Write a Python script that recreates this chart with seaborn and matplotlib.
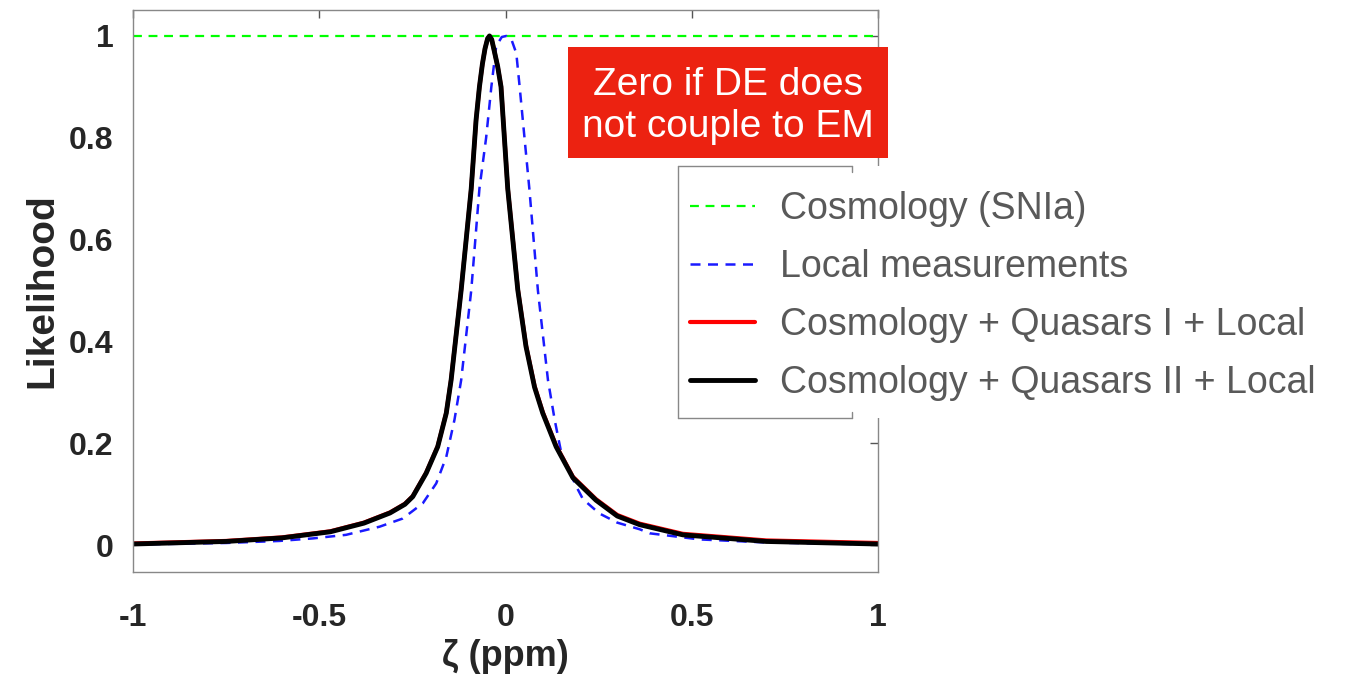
import numpy as np
import pandas as pd
import seaborn as sns
import matplotlib.pyplot as plt
from matplotlib.patches import Rectangle
from matplotlib.lines import Line2D

# values
sn_zeta = [-1.0, 1.0]
sn_like = [1.0, 1.0]

local_zeta = [-1.0, -0.75, -0.607, -0.517, -0.428, -0.338, -0.311, -0.276, -0.222,
              -0.186, -0.159, -0.137, -0.119, -0.092, -0.070, -0.052, -0.038, -0.025,
              -0.010, 0.002, 0.015, 0.029, 0.038, 0.051, 0.064, 0.087, 0.114, 0.132,
              0.150, 0.190, 0.208, 0.252, 0.300, 0.360, 0.387, 0.521, 0.700, 1.0]
local_like = [0.001, 0.004, 0.008, 0.013, 0.020, 0.036, 0.043, 0.052, 0.082,
              0.121, 0.173, 0.246, 0.324, 0.500, 0.700, 0.800, 0.900, 0.980,
              0.998, 1.000, 0.995, 0.966, 0.900, 0.800, 0.700, 0.500, 0.324, 0.246,
              0.180, 0.115, 0.090, 0.062, 0.044, 0.031, 0.023, 0.011, 0.005, 0.001]

q2_zeta = [-1.0, -0.75, -0.60, -0.47, -0.38, -0.31, -0.27, -0.249, -0.213, -0.182,
           -0.159, -0.146, -0.119, -0.092, -0.079, -0.070, -0.062, -0.055, -0.048,
           -0.043, -0.037, -0.030, -0.021, -0.012, 0.006, 0.033, 0.055, 0.078, 0.100,
           0.136, 0.181, 0.243, 0.300, 0.360, 0.476, 0.700, 1.0]
q2_like = [0.002, 0.007, 0.014, 0.026, 0.043, 0.063, 0.080, 0.095, 0.141, 0.193,
           0.259, 0.324, 0.501, 0.700, 0.835, 0.900, 0.945, 0.975, 0.995,
           1.000, 0.993, 0.970, 0.940, 0.900, 0.700, 0.501, 0.390, 0.310, 0.259,
           0.193, 0.132, 0.088, 0.057, 0.040, 0.020, 0.007, 0.002]

q1_zeta = q2_zeta
q1_like = [0.003, 0.008, 0.015, 0.027, 0.044, 0.064, 0.081, 0.096, 0.142, 0.194,
           0.260, 0.325, 0.502, 0.700, 0.835, 0.900, 0.945, 0.975, 0.995,
           1.000, 0.993, 0.970, 0.940, 0.901, 0.701, 0.503, 0.392, 0.312, 0.261,
           0.195, 0.134, 0.090, 0.059, 0.042, 0.022, 0.009, 0.004]

labels = ['Cosmology (SNIa)', 'Local measurements',
          'Cosmology + Quasars I + Local', 'Cosmology + Quasars II + Local']

sns.set_style('white')
plt.rcParams['font.family'] = ['Liberation Sans', 'DejaVu Sans']

W, H = 1345, 683
fig = plt.figure(figsize=(W / 100, H / 100), dpi=100)
ax = fig.add_axes([133 / W, 1 - 572 / H, (878 - 133) / W, (572 - 10) / H])

sns.lineplot(data=pd.DataFrame({'z': sn_zeta, 'L': sn_like}), x='z', y='L', ax=ax,
             color='#00ff00', lw=1.6, ls=(0, (4, 3)), label=labels[0])
sns.lineplot(data=pd.DataFrame({'z': local_zeta, 'L': local_like}), x='z', y='L', ax=ax,
             color='#1a1aff', lw=1.8, ls=(0, (4, 3)), label=labels[1], sort=False)
sns.lineplot(data=pd.DataFrame({'z': q1_zeta, 'L': q1_like}), x='z', y='L', ax=ax,
             color='#ff0000', lw=3, label=labels[2], sort=False)
sns.lineplot(data=pd.DataFrame({'z': q2_zeta, 'L': q2_like}), x='z', y='L', ax=ax,
             color='black', lw=3.5, label=labels[3], sort=False)

ax.set_xlim(-1, 1)
ax.set_ylim(-0.053, 1.051)
ax.set_xticks([-1, -0.5, 0, 0.5, 1])
ax.set_xticklabels(['-1', '-0.5', '0', '0.5', '1'])
ax.set_yticks([0, 0.2, 0.4, 0.6, 0.8, 1])
ax.set_yticklabels(['0', '0.2', '0.4', '0.6', '0.8', '1'])
ax.tick_params(direction='in', length=6, width=1, color='#555555', top=True, right=True,
               labelsize=23, labelcolor='#262626')
ax.tick_params(axis='y', pad=14)
ax.tick_params(axis='x', pad=22)
for t in ax.get_xticklabels() + ax.get_yticklabels():
    t.set_fontweight('bold')
for s in ax.spines.values():
    s.set_color('#888888')
    s.set_linewidth(1)
ax.set_xlabel('ζ (ppm)', fontsize=26, fontweight='bold', color='#262626', labelpad=5)
ax.set_ylabel('Likelihood', fontsize=28, fontweight='bold', color='#262626', labelpad=6)

handles, labs = ax.get_legend_handles_labels()
ax.get_legend().remove()

# white background behind the legend text (hides the right spine there)
fig.add_artist(Rectangle((678 / W, 1 - 418 / H), (1330 - 678) / W, (418 - 166) / H,
                         transform=fig.transFigure, facecolor='white', edgecolor='none', zorder=2))
# partial legend border
for xs, ys in [([678, 678], [166, 418]), ([678, 852], [166, 166]), ([678, 852], [418, 418]),
               ([852, 852], [166, 172]), ([852, 852], [412, 418])]:
    fig.add_artist(Line2D([x / W for x in xs], [1 - y / H for y in ys], transform=fig.transFigure,
                          color='#888888', lw=1, zorder=3))

fig.legend(handles, labs, loc='upper left', bbox_to_anchor=(690 / W, 1 - 191 / H),
           frameon=False, fontsize=27, labelcolor='#595959', handlelength=1.73,
           handletextpad=0.67, labelspacing=0.59, borderpad=0, borderaxespad=0)

# red annotation box
fig.add_artist(Rectangle((568 / W, 1 - 158 / H), (888 - 568) / W, (158 - 47) / H,
                         transform=fig.transFigure, facecolor='#ec2211', edgecolor='none', zorder=4))
fig.text(728 / W, 1 - 106 / H, 'Zero if DE does\nnot couple to EM', ha='center', va='center',
         color='white', fontsize=28, linespacing=1.22, zorder=5)

fig.savefig('out.png', dpi=100)
